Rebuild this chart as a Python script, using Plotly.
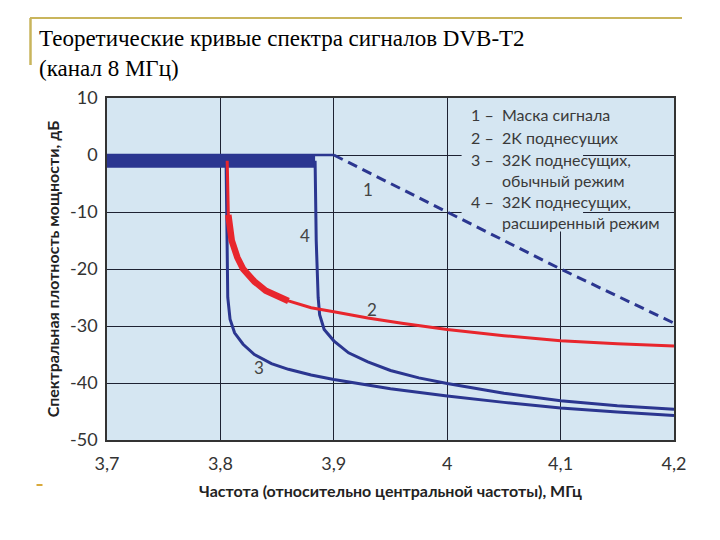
import plotly.graph_objects as go

# ---- data ----
x_ticks = [3.7, 3.8, 3.9, 4.0, 4.1, 4.2]
x_tick_labels = ["3,7", "3,8", "3,9", "4", "4,1", "4,2"]
y_ticks = [10, 0, -10, -20, -30, -40, -50]
y_tick_labels = ["10", "0", "-10", "-20", "-30", "-40", "-50"]

# 1 - signal mask
mask_x = [3.7, 3.9, 4.0, 4.1, 4.2]
mask_y = [0, 0, -10, -20, -29.5]

# in-band (0 dB, rapidly oscillating) region
band_x = [3.7, 3.8835]
band_y = [-1.1, -1.1]

# 2 - 2K subcarriers
c2_x = [3.806, 3.8065, 3.807, 3.808, 3.81, 3.815, 3.82, 3.83, 3.84, 3.86,
        3.88, 3.9, 3.93, 3.96, 4.0, 4.05, 4.1, 4.15, 4.2]
c2_y = [-1, -6, -10.5, -13, -15, -18, -20, -22.2, -23.8, -25.6,
        -26.8, -27.5, -28.6, -29.5, -30.6, -31.7, -32.6, -33.1, -33.5]

# 3 - 32K subcarriers, normal mode
c3_x = [3.805, 3.8055, 3.8065, 3.8085, 3.8125, 3.82, 3.83, 3.845, 3.86, 3.88,
        3.9, 3.95, 4.0, 4.05, 4.1, 4.15, 4.2]
c3_y = [-1, -15, -25, -28.8, -31.2, -33.2, -35.0, -36.6, -37.6, -38.6,
        -39.4, -41.0, -42.3, -43.4, -44.4, -45.1, -45.7]

# 4 - 32K subcarriers, extended mode
c4_x = [3.8835, 3.8845, 3.8862, 3.8875, 3.8915, 3.9, 3.913, 3.93, 3.95, 3.975,
        4.0, 4.05, 4.1, 4.15, 4.2]
c4_y = [-1, -15, -25, -28, -30.6, -32.6, -34.7, -36.3, -37.8, -39.1,
        -40.1, -41.8, -43.1, -44.0, -44.6]

legend_numbers = ["1 –", "2 –", "3 –", "4 –"]
legend_number_y = [7.1, 3.1, -0.85, -8.2]
legend_texts = ["Маска сигнала", "2K поднесущих", "32K поднесущих,<br>обычный режим",
                "32K поднесущих,<br>расширенный режим"]
legend_text_y = [7.1, 3.1, -2.66, -10.0]

curve_labels = ["1", "2", "3", "4"]
curve_label_x = [3.930, 3.934, 3.8344, 3.875]
curve_label_y = [-6.0, -27.1, -37.3, -14.2]

title_text = "Теоретические кривые спектра сигналов DVB-T2<br>(канал 8 МГц)"
x_title = "Частота (относительно центральной частоты), МГц"
y_title = "Спектральная плотность мощности, дБ"

# ---- styles ----
BLUE = "#2b3690"
RED = "#e8262d"
BG = "#d5e6f2"
GOLD = "#c9b55c"
FONT = "Lato"

# page body has an 8px margin: figure is 712x532 placed at (8, 8)
W, H = 712, 532
L, R, T, B = 99, 46, 90, 100
PW, PH = W - L - R, H - T - B


def px(fx):
    return (fx - L) / PW


def py(fy):
    return (H - B - fy) / PH


fig = go.Figure()

fig.add_trace(go.Scatter(x=mask_x[:2], y=mask_y[:2], mode="lines",
                         line=dict(color=BLUE, width=2.5), hoverinfo="skip"))
fig.add_trace(go.Scatter(x=band_x, y=band_y, mode="lines",
                         line=dict(color=BLUE, width=13), hoverinfo="skip"))
fig.add_trace(go.Scatter(x=c3_x, y=c3_y, mode="lines",
                         line=dict(color=BLUE, width=3), hoverinfo="skip"))
fig.add_trace(go.Scatter(x=c4_x, y=c4_y, mode="lines",
                         line=dict(color=BLUE, width=3), hoverinfo="skip"))
fig.add_trace(go.Scatter(x=c2_x, y=c2_y, mode="lines",
                         line=dict(color=RED, width=3), hoverinfo="skip"))
# ripple region of curve 2 drawn thicker
fig.add_trace(go.Scatter(x=c2_x[2:10], y=c2_y[2:10], mode="lines",
                         line=dict(color=RED, width=6.5), hoverinfo="skip"))
fig.add_trace(go.Scatter(x=mask_x[1:], y=mask_y[1:], mode="lines",
                         line=dict(color=BLUE, width=3, dash="10px,6px"),
                         hoverinfo="skip"))

annotations = []
for t, x, y in zip(curve_labels, curve_label_x, curve_label_y):
    annotations.append(dict(x=x, y=y, xref="x", yref="y", text=t, showarrow=False,
                            font=dict(family=FONT, size=17, color="#444")))
for num, y in zip(legend_numbers, legend_number_y):
    annotations.append(dict(x=4.0195, y=y, xref="x", yref="y", text=num,
                            showarrow=False, xanchor="left",
                            font=dict(family=FONT, size=16, color="#3a3a3a")))
for txt, y in zip(legend_texts, legend_text_y):
    annotations.append(dict(x=4.0465, y=y, xref="x", yref="y", text=txt,
                            showarrow=False, xanchor="left", align="left",
                            font=dict(family=FONT, size=16, color="#3a3a3a")))

shapes = [
    # legend box covering grid
    dict(type="rect", xref="x", yref="y", x0=4.0127, x1=4.1198, y0=-13.4, y1=10,
         fillcolor=BG, line=dict(width=0), layer="between"),
    # decorative slide lines
    dict(type="line", xref="paper", yref="paper", x0=px(22), x1=px(674),
         y0=py(10), y1=py(10), line=dict(color=GOLD, width=2)),
    dict(type="line", xref="paper", yref="paper", x0=px(22.5), x1=px(22.5),
         y0=py(10), y1=py(57), line=dict(color=GOLD, width=2.5)),
    dict(type="line", xref="paper", yref="paper", x0=px(28.5), x1=px(34.5),
         y0=py(477), y1=py(477), line=dict(color="#d9a93a", width=2)),
]

fig.update_layout(
    width=W, height=H, autosize=False,
    margin=dict(l=L, r=R, t=T, b=B),
    paper_bgcolor="white", plot_bgcolor=BG,
    showlegend=False,
    title=dict(text=title_text, x=31 / W, xanchor="left", y=1 - 38 / H, yanchor="middle",
               font=dict(family="Liberation Serif, Times New Roman, DejaVu Serif, serif",
                         size=23, color="black")),
    xaxis=dict(range=[3.7, 4.2], tickvals=x_ticks, ticktext=x_tick_labels,
               showgrid=True, gridcolor="#1e2233", gridwidth=1.2,
               showline=True, linecolor="#333", linewidth=1.5, mirror=True,
               ticks="outside", ticklen=7, tickcolor="rgba(0,0,0,0)",
               tickfont=dict(family=FONT, size=18, color="#333"),
               zeroline=False,
               title=dict(text=x_title, standoff=12,
                          font=dict(family=FONT, size=16, color="#222", weight="bold"))),
    yaxis=dict(range=[-50, 10], tickvals=y_ticks, ticktext=y_tick_labels,
               showgrid=True, gridcolor="#1e2233", gridwidth=1.2,
               showline=True, linecolor="#333", linewidth=1.5, mirror=True,
               ticks="outside", ticklen=4, tickcolor="rgba(0,0,0,0)",
               tickfont=dict(family=FONT, size=18, color="#333"),
               zeroline=False,
               title=dict(text=y_title, standoff=6,
                          font=dict(family=FONT, size=16, color="#222", weight="bold"))),
    annotations=annotations,
    shapes=shapes,
)

fig.write_html("out.html")
